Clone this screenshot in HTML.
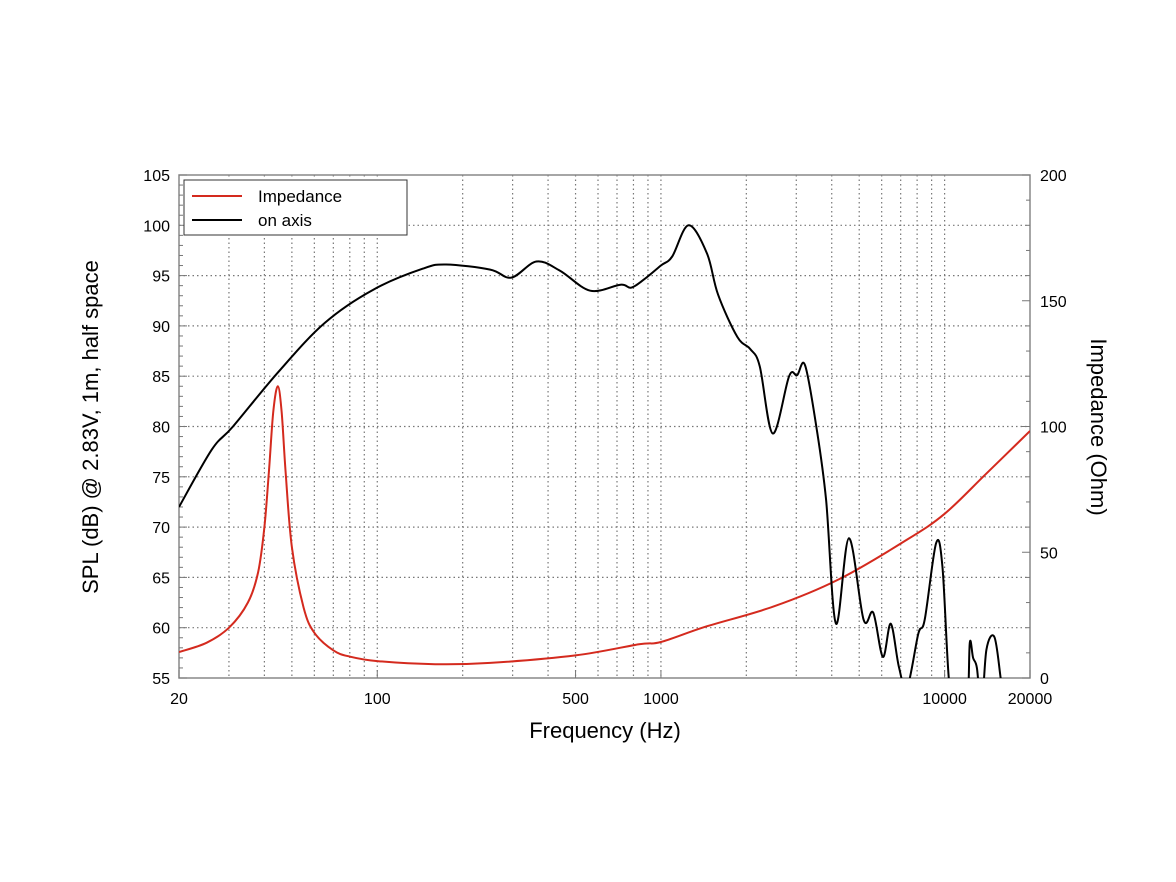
<!DOCTYPE html>
<html><head><meta charset="utf-8"><style>
html,body{margin:0;padding:0;background:#fff;}
svg{display:block;font-family:"Liberation Sans",Arial,sans-serif;}
</style></head><body>
<svg id="chart" width="1176" height="882" viewBox="0 0 1176 882" xmlns="http://www.w3.org/2000/svg">
<g id="grid"></g>
<g id="axes"></g>
<g id="series"></g>
<text x="605" y="738" font-size="22" text-anchor="middle">Frequency (Hz)</text>
<text transform="translate(98,427) rotate(-90)" font-size="22" text-anchor="middle">SPL (dB) @ 2.83V, 1m, half space</text>
<text transform="translate(1091,427) rotate(90)" font-size="22" text-anchor="middle">Impedance (Ohm)</text>
<g>
<rect x="184" y="180" width="223" height="55" fill="#fff" stroke="#333" stroke-width="1"/>
<line x1="192" y1="196" x2="242" y2="196" stroke="#d42a1e" stroke-width="2"/>
<text x="258" y="202" font-size="17">Impedance</text>
<line x1="192" y1="220" x2="242" y2="220" stroke="#000" stroke-width="2"/>
<text x="258" y="226" font-size="17">on axis</text>
</g>
</svg>
<script>
const splFreq=[20,26.1,31,44.9,65.3,96.8,145,175,250,297,364,440,563,720,785,870,1000,1096,1252,1453,1590,1860,2064,2230,2480,2830,3020,3220,3530,3820,4140,4600,5180,5600,6060,6460,6900,7370,8080,8510,9330,9820,10340,11000,12000,12270,12600,13000,13500,14040,14970,15740,16500];
const splDb=[72.0,77.7,80.0,85.45,90.3,93.6,95.7,96.1,95.6,94.8,96.4,95.5,93.5,94.1,93.8,94.6,96.0,96.9,100.0,97.2,93.1,88.9,87.7,86.0,79.3,85.0,85.1,86.1,80.0,72.7,60.4,68.9,60.8,61.5,57.1,60.4,56.1,54.0,59.4,60.8,68.4,66.1,55.1,49,52,58.5,57,56.0,52,57.8,59.1,55.1,50];
const impFreq=[20,25,30,35,38,40,41.5,43,44.6,46,47.5,50,55,60,70,80,100,160,250,500,837,1000,1436,2490,4200,7300,10000,14000,20000];
const impOhm=[10.3,14,20,30,42,60,82,106,116,106,82,52,28,18,11,8.5,6.7,5.5,6,9,13.4,14.3,20.4,28.4,39,54.7,65.3,81.2,98.2];
const xTickVals=[20,100,500,1000,10000,20000];
const xTickLabels=["20","100","500","1000","10000","20000"];
const leftTicks=[55,60,65,70,75,80,85,90,95,100,105];
const rightTicks=[0,50,100,150,200];

const X0=179,X1=1030,Y0=175,Y1=678;
const lx=f=>X0+(Math.log10(f)-Math.log10(20))/3*(X1-X0);
const ly=d=>Y1-(d-55)/50*(Y1-Y0);
const ry=o=>Y1-o/200*(Y1-Y0);
const NS="http://www.w3.org/2000/svg";
function mk(tag,attrs,parent){const e=document.createElementNS(NS,tag);for(const k in attrs)e.setAttribute(k,attrs[k]);parent.appendChild(e);return e;}
const grid=document.getElementById('grid'),axes=document.getElementById('axes'),series=document.getElementById('series');
// vertical grid
const gridF=[];
for(let d=10;d<=10000;d*=10)for(let m=1;m<10;m++){const f=d*m;if(f>=20&&f<=20000)gridF.push(f);}
gridF.push(20000);
gridF.forEach(f=>{const x=lx(f);if(x<=X0+0.5||x>=X1-0.5)return;
 const l=mk('line',{x1:x,x2:x,y1:Y0,y2:Y1,stroke:'#777','stroke-width':1.2,'stroke-dasharray':'1.5,3'},grid);
 });
leftTicks.forEach(v=>{const y=ly(v);if(v==55||v==105)return;
 const l=mk('line',{x1:X0,x2:X1,y1:y,y2:y,stroke:'#777','stroke-width':1.2,'stroke-dasharray':'1.5,3'},grid);
 });
// frame
const fr=mk('rect',{x:X0,y:Y0,width:X1-X0,height:Y1-Y0,fill:'none',stroke:'#888','stroke-width':1.5},axes);

// left ticks
for(let v=55;v<=105;v++){const y=ly(v);const len=v%5==0?8:4;mk('line',{x1:X0,x2:X0+len,y1:y,y2:y,stroke:'#777','stroke-width':1},axes);}
for(let v=0;v<=200;v+=10){const y=ry(v);const len=v%50==0?8:4;mk('line',{x1:X1-len,x2:X1,y1:y,y2:y,stroke:'#777','stroke-width':1},axes);}
leftTicks.forEach(v=>{const t=mk('text',{x:170,y:ly(v)+6,'font-size':16,'text-anchor':'end'},axes);t.textContent=v;
 });
rightTicks.forEach(v=>{const t=mk('text',{x:1040,y:ry(v)+6,'font-size':16,'text-anchor':'start'},axes);t.textContent=v;
 });
xTickVals.forEach((f,i)=>{const x=lx(f);mk('line',{x1:x,x2:x,y1:Y1,y2:Y1-8,stroke:'#777','stroke-width':1},axes);
 const t=mk('text',{x:x,y:704,'font-size':16,'text-anchor':'middle'},axes);t.textContent=xTickLabels[i];
 });
// curves
function path(pts){let d='M'+pts[0][0]+','+pts[0][1];
 for(let i=0;i<pts.length-1;i++){const p0=pts[Math.max(0,i-1)],p1=pts[i],p2=pts[i+1],p3=pts[Math.min(pts.length-1,i+2)];
  const c1x=p1[0]+(p2[0]-p0[0])/6,c1y=p1[1]+(p2[1]-p0[1])/6,c2x=p2[0]-(p3[0]-p1[0])/6,c2y=p2[1]-(p3[1]-p1[1])/6;
  d+=' C'+c1x.toFixed(1)+','+c1y.toFixed(1)+' '+c2x.toFixed(1)+','+c2y.toFixed(1)+' '+p2[0].toFixed(1)+','+p2[1].toFixed(1);}
 return d;}
mk('clipPath',{id:'clip'},series).appendChild(Object.assign(document.createElementNS(NS,'rect'),{}));
const cr=series.querySelector('#clip').firstChild;cr.setAttribute('x',X0);cr.setAttribute('y',Y0);cr.setAttribute('width',X1-X0);cr.setAttribute('height',Y1-Y0);
const imp=mk('path',{d:path(impFreq.map((f,i)=>[lx(f),ry(impOhm[i])])),fill:'none',stroke:'#d42a1e','stroke-width':2,'clip-path':'url(#clip)'},series);

const spl=mk('path',{d:path(splFreq.map((f,i)=>[lx(f),ly(splDb[i])])),fill:'none',stroke:'#000','stroke-width':2,'clip-path':'url(#clip)'},series);

</script>
</body></html>
